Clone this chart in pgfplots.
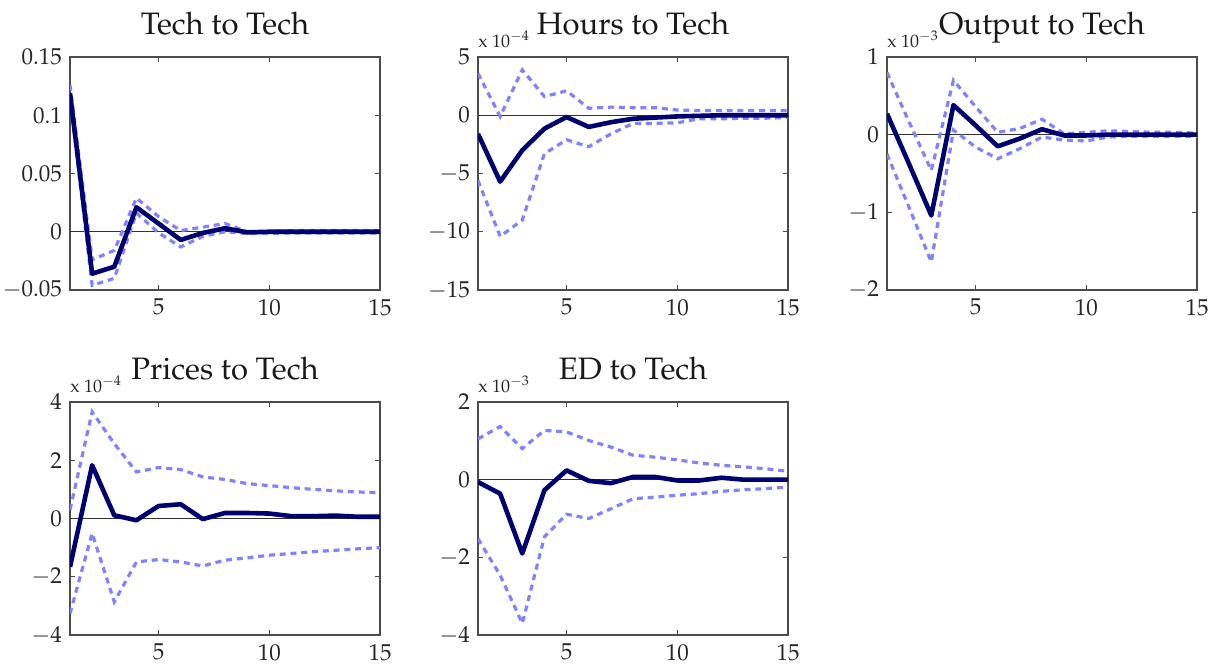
\documentclass[border=0pt]{standalone}
\usepackage[T1]{fontenc}
\usepackage{mathpazo}
\usepackage{pgfplots}
\usepackage{pgfplotstable}
\pgfplotsset{compat=1.18}

\definecolor{irf}{RGB}{0,0,112}
\definecolor{band}{RGB}{130,130,255}

% impulse responses: t, lower band, point estimate, upper band
\pgfplotstableread{
t lo mid hi
1 0.115 0.119 0.126
2 -0.046 -0.036 -0.024
3 -0.040 -0.030 -0.016
4 0.016 0.021 0.029
5 -0.001 0.007 0.013
6 -0.013 -0.007 0.001
7 -0.004 -0.001 0.004
8 0.000 0.003 0.007
9 -0.0015 -0.0005 0.000
10 -0.0015 0.000 0.000
11 -0.001 0.000 0.001
12 -0.001 0.000 0.001
13 -0.001 0.000 0.001
14 -0.001 0.000 0.001
15 -0.001 0.000 0.001
}\techtech

\pgfplotstableread{
t lo mid hi
1 -5.6 -1.6 3.6
2 -10.4 -5.7 -0.1
3 -9.0 -3.0 3.9
4 -3.3 -1.15 1.6
5 -2.1 -0.15 2.1
6 -2.7 -1.0 0.6
7 -1.6 -0.6 0.7
8 -0.7 -0.3 0.65
9 -0.7 -0.2 0.65
10 -0.65 -0.1 0.45
11 -0.3 -0.05 0.4
12 -0.3 0.0 0.4
13 -0.25 0.0 0.4
14 -0.25 0.0 0.4
15 -0.2 0.0 0.4
}\hourstech

\pgfplotstableread{
t lo mid hi
1 -0.25 0.27 0.80
2 -0.94 -0.38 0.16
3 -1.64 -1.04 -0.46
4 0.06 0.38 0.70
5 -0.16 0.12 0.36
6 -0.31 -0.15 0.03
7 -0.18 -0.05 0.08
8 -0.03 0.07 0.20
9 -0.07 -0.01 0.01
10 -0.08 -0.01 0.03
11 -0.03 0.00 0.05
12 -0.02 0.00 0.04
13 -0.02 0.00 0.03
14 -0.02 0.00 0.03
15 -0.02 0.00 0.02
}\outputtech

\pgfplotstableread{
t lo mid hi
1 -3.26 -1.66 0.30
2 -0.51 1.83 3.66
3 -2.86 0.11 2.57
4 -1.49 -0.06 1.60
5 -1.41 0.43 1.75
6 -1.49 0.49 1.68
7 -1.63 -0.02 1.43
8 -1.43 0.19 1.34
9 -1.35 0.19 1.20
10 -1.26 0.17 1.13
11 -1.20 0.08 1.06
12 -1.14 0.08 1.00
13 -1.09 0.10 0.95
14 -1.04 0.06 0.91
15 -1.00 0.06 0.89
}\pricestech

\pgfplotstableread{
t lo mid hi
1 -1.52 -0.06 1.05
2 -2.46 -0.36 1.37
3 -3.70 -1.90 0.80
4 -1.47 -0.27 1.27
5 -0.89 0.24 1.23
6 -1.00 -0.03 1.01
7 -0.75 -0.09 0.84
8 -0.49 0.07 0.63
9 -0.45 0.07 0.58
10 -0.40 -0.02 0.51
11 -0.36 -0.02 0.43
12 -0.30 0.05 0.37
13 -0.26 0.00 0.33
14 -0.23 0.00 0.28
15 -0.19 0.00 0.22
}\edtech

\pgfplotsset{
  irfpanel/.style={
    scale only axis, width=155pt, height=116.5pt,
    anchor=south west,
    xmin=1, xmax=15, xtick={5,10,15},
    tick align=inside, xtick pos=both, ytick pos=both,
    major tick length=2.5pt,
    axis line style={line width=0.7pt, black!70},
    tick style={line width=0.6pt, black!70},
    ticklabel style={font=\fontsize{11.5}{13}\selectfont, text=black!85},
    xticklabel style={yshift=-1pt},
    yticklabel style={xshift=-0.5pt},
    title style={font=\fontsize{15.5}{18}\selectfont, text=black!90,
      at={(0.5,1)}, anchor=base, yshift=5.5pt},
    scaled ticks=false,
  },
  scalelabel/.style={
    extra description/.code={
      \node[anchor=base west, inner sep=0pt, text=black!85,
        font=\fontsize{9}{10}\selectfont] at (0,1) [yshift=5pt] {x 10$^{#1}$};
    },
  },
  zeroline/.style={black!80, line width=0.5pt, forget plot},
  bandline/.style={band, line width=1.6pt, dash pattern=on 3pt off 2.4pt},
  midline/.style={irf, line width=2.3pt, line join=round},
}

\newcommand{\irfplots}[1]{%
  \addplot[zeroline] coordinates {(1,0) (15,0)};
  \addplot[bandline] table[x=t, y=hi] {#1};
  \addplot[bandline] table[x=t, y=lo] {#1};
  \addplot[midline] table[x=t, y=mid] {#1};
}

\begin{document}
\begin{tikzpicture}
\useasboundingbox (0,0) rectangle (606.5pt,333pt);

\begin{axis}[irfpanel, at={(35pt,188pt)}, title={Tech to Tech},
  ymin=-0.05, ymax=0.15, ytick={-0.05,0,0.05,0.1,0.15},
  yticklabels={$-0.05$,$0$,$0.05$,$0.1$,$0.15$}]
\irfplots{\techtech}
\end{axis}

\begin{axis}[irfpanel, at={(239pt,188pt)}, title={Hours to Tech},
  scalelabel={-4},
  ymin=-15, ymax=5, ytick={-15,-10,-5,0,5}]
\irfplots{\hourstech}
\end{axis}

\begin{axis}[irfpanel, at={(443.5pt,188pt)}, title={Output to Tech},
  scalelabel={-3},
  ymin=-2, ymax=1, ytick={-2,-1,0,1}]
\irfplots{\outputtech}
\end{axis}

\begin{axis}[irfpanel, at={(35pt,15.5pt)}, title={Prices to Tech},
  scalelabel={-4},
  ymin=-4, ymax=4, ytick={-4,-2,0,2,4}]
\irfplots{\pricestech}
\end{axis}

\begin{axis}[irfpanel, at={(239pt,15.5pt)}, title={ED to Tech},
  scalelabel={-3},
  ymin=-4, ymax=2, ytick={-4,-2,0,2}]
\irfplots{\edtech}
\end{axis}
\end{tikzpicture}
\end{document}
